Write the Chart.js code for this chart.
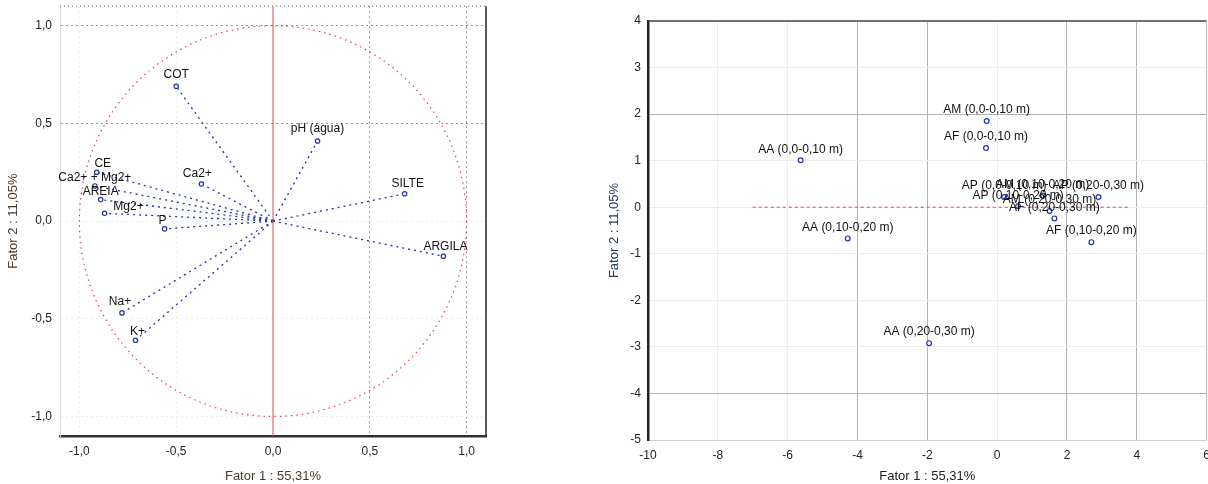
<!DOCTYPE html>
<html>
<head>
<meta charset="utf-8">
<script src="https://cdn.jsdelivr.net/npm/chart.js@4.4.1/dist/chart.umd.min.js"></script>
<style>
  html, body { margin: 0; padding: 0; background: #fff; }
  #wrap { position: relative; width: 1208px; height: 484px; overflow: hidden; }
  #c1 { position: absolute; left: 0; top: -9px; }
  #c2 { position: absolute; left: 590px; top: 0; }
</style>
</head>
<body>
<div id="wrap">
  <canvas id="c1" width="500" height="493"></canvas>
  <canvas id="c2" width="628" height="484"></canvas>
</div>
<script>
// ------------------------------
// data: variable loadings (circle of correlations)
// ------------------------------
const varNames = ["COT", "pH (água)", "SILTE", "ARGILA", "Na+", "K+", "CE", "Ca2+ + Mg2+", "AREIA", "Mg2+", "P", "Ca2+"];
const load1 = [-0.50, 0.23, 0.68, 0.88, -0.78, -0.71, -0.91, -0.92, -0.89, -0.87, -0.56, -0.37];
const load2 = [0.69, 0.41, 0.14, -0.18, -0.47, -0.61, 0.25, 0.18, 0.11, 0.04, -0.04, 0.19];
const circleTicks = [-1, -0.5, 0, 0.5, 1];
const circleLimits = [-1.1, 1.1];

// ------------------------------
// data: sample scores
// ------------------------------
const sampleNames = [
  "AA (0,0-0,10 m)", "AA (0,10-0,20 m)", "AA (0,20-0,30 m)",
  "AM (0,0-0,10 m)", "AF (0,0-0,10 m)", "AF (0,10-0,20 m)",
  "AP (0,0-0,10 m)", "AM (0,10-0,20 m)", "AP (0,10-0,20 m)",
  "AM (0,20-0,30 m)", "AP (0,20-0,30 m)", "AF (0,20-0,30 m)"
];
const score1 = [-5.63, -4.28, -1.95, -0.30, -0.32, 2.70, 0.20, 1.30, 0.60, 1.50, 2.90, 1.64];
const score2 = [1.01, -0.67, -2.92, 1.85, 1.27, -0.75, 0.22, 0.25, 0.02, -0.08, 0.22, -0.24];
const scoreXTicks = [-10, -8, -6, -4, -2, 0, 2, 4, 6];
const scoreYTicks = [-5, -4, -3, -2, -1, 0, 1, 2, 3, 4];
const refLineX = [-7, 3.8];

const titleX = "Fator 1 : 55,31%";
const titleY = "Fator 2 : 11,05%";

// label offsets (pixels) for the loadings plot
const varLabelOffset = {
  "COT": [0, -12], "pH (água)": [0, -12], "SILTE": [3, -10], "ARGILA": [2, -10],
  "Na+": [-2, -11], "K+": [2, -9], "CE": [6, -9], "Ca2+ + Mg2+": [0, -8],
  "AREIA": [0, -8], "Mg2+": [24, -7], "P": [-2, -8], "Ca2+": [-4, -10]
};

const BLUE = "#2433a6";
const FONT = "'Liberation Sans', Arial, sans-serif";
const comma = v => v.toFixed(1).replace(".", ",").replace("-0,0", "0,0");

// ------------------------------
// plugins
// ------------------------------
const pointLabels = {
  id: "pointLabels",
  afterDatasetsDraw(chart, args, o) {
    const { ctx, scales: { x, y } } = chart;
    ctx.save();
    ctx.font = o.size + "px " + FONT;
    ctx.fillStyle = "#111";
    ctx.textAlign = "center";
    ctx.textBaseline = "middle";
    o.names.forEach((n, i) => {
      const off = (o.offsets && o.offsets[n]) || [0, -11];
      ctx.fillText(n, x.getPixelForValue(o.xs[i]) + off[0], y.getPixelForValue(o.ys[i]) + off[1]);
    });
    ctx.restore();
  }
};

const unitCircle = {
  id: "unitCircle",
  beforeDatasetsDraw(chart) {
    const { ctx, scales: { x, y } } = chart;
    const cx = x.getPixelForValue(0), cy = y.getPixelForValue(0);
    const rx = x.getPixelForValue(1) - cx, ry = cy - y.getPixelForValue(1);
    ctx.save();
    ctx.strokeStyle = "#e0464a";
    ctx.lineWidth = 1.2;
    ctx.setLineDash([1.5, 4]);
    ctx.beginPath();
    ctx.ellipse(cx, cy, rx, ry, 0, 0, Math.PI * 2);
    ctx.stroke();
    ctx.restore();
  }
};

const frame = {
  id: "frame",
  afterDraw(chart, args, o) {
    const { ctx, chartArea: a } = chart;
    ctx.save();
    ctx.strokeStyle = o.topColor;
    ctx.lineWidth = o.topWidth;
    ctx.setLineDash(o.topDash || []);
    ctx.beginPath(); ctx.moveTo(a.left, a.top); ctx.lineTo(a.right, a.top); ctx.stroke();
    ctx.strokeStyle = o.rightColor;
    ctx.lineWidth = o.rightWidth;
    ctx.setLineDash([]);
    ctx.beginPath(); ctx.moveTo(a.right, a.top); ctx.lineTo(a.right, a.bottom); ctx.stroke();
    ctx.restore();
  }
};

// ------------------------------
// loadings chart (left)
// ------------------------------
const vectorSets = varNames.map((n, i) => ({
  label: n,
  data: [{ x: 0, y: 0 }, { x: load1[i], y: load2[i] }],
  showLine: true,
  borderColor: BLUE,
  borderWidth: 1.3,
  borderDash: [2, 4],
  pointRadius: [0, 2.2],
  pointBackgroundColor: "#fff",
  pointBorderColor: BLUE,
  pointBorderWidth: 1.2
}));

new Chart(document.getElementById("c1"), {
  type: "scatter",
  data: {
    datasets: [
      {
        label: "eixo",
        data: [{ x: 0, y: circleLimits[0] }, { x: 0, y: circleLimits[1] }],
        showLine: true,
        borderColor: "#e0464a",
        borderWidth: 1,
        pointRadius: 0
      },
      ...vectorSets
    ]
  },
  options: {
    responsive: false,
    animation: false,
    layout: { padding: { top: 4, right: 14, left: 0, bottom: 0 } },
    plugins: {
      legend: { display: false },
      tooltip: { enabled: false },
      pointLabels: { names: varNames, xs: load1, ys: load2, offsets: varLabelOffset, size: 12 },
      frame: { topColor: "#666", topWidth: 1, topDash: [1, 3], rightColor: "#222", rightWidth: 1.5 }
    },
    scales: {
      x: {
        type: "linear", min: circleLimits[0], max: circleLimits[1],
        afterBuildTicks: s => { s.ticks = circleTicks.map(v => ({ value: v })); },
        afterFit: s => { s.height = 48; },
        ticks: { callback: v => comma(v), color: "#222", font: { size: 12, family: FONT }, padding: 8, maxRotation: 0 },
        grid: { color: c => (c.tick && c.tick.value > 0 ? "#9a9a9a" : (c.tick && c.tick.value === 0 ? "rgba(0,0,0,0)" : "#ececec")), drawTicks: false },
        border: { display: true, color: "#333", width: 2.5, dash: [2, 3] },
        title: { display: true, text: titleX, color: "#4a3a2a", font: { size: 13, family: FONT }, padding: { top: 4, bottom: 0 } }
      },
      y: {
        type: "linear", min: circleLimits[0], max: circleLimits[1],
        afterBuildTicks: s => { s.ticks = circleTicks.map(v => ({ value: v })); },
        afterFit: s => { s.width = 60; },
        ticks: { callback: v => comma(v), color: "#222", font: { size: 12, family: FONT }, padding: 8 },
        grid: { color: c => (c.tick && c.tick.value > 0 ? "#9a9a9a" : "#ececec"), drawTicks: false },
        border: { display: true, color: "#d8d8d8", width: 1, dash: [2, 3] },
        title: { display: true, text: titleY, color: "#4a3a2a", font: { size: 13, family: FONT }, padding: { top: 6, bottom: 4 } }
      }
    }
  },
  plugins: [unitCircle, pointLabels, frame]
});

// ------------------------------
// scores chart (right)
// ------------------------------
const strongX = [-4, -2, 2, 4];
const strongY = [2, -4];

new Chart(document.getElementById("c2"), {
  type: "scatter",
  data: {
    datasets: [
      {
        label: "ref",
        data: refLineX.map(v => ({ x: v, y: 0 })),
        showLine: true,
        borderColor: "#e0464a",
        borderWidth: 1,
        borderDash: [3, 3],
        pointRadius: 0
      },
      {
        label: "amostras",
        data: sampleNames.map((n, i) => ({ x: score1[i], y: score2[i] })),
        pointRadius: 2.4,
        pointBackgroundColor: "#fff",
        pointBorderColor: BLUE,
        pointBorderWidth: 1.2
      }
    ]
  },
  options: {
    responsive: false,
    animation: false,
    layout: { padding: { top: 21, right: 3, left: 17, bottom: 0 } },
    plugins: {
      legend: { display: false },
      tooltip: { enabled: false },
      pointLabels: { names: sampleNames, xs: score1, ys: score2, size: 12 },
      frame: { topColor: "#444", topWidth: 1.5, rightColor: "#bbb", rightWidth: 1 }
    },
    scales: {
      x: {
        type: "linear", min: -10, max: 6,
        afterBuildTicks: s => { s.ticks = scoreXTicks.map(v => ({ value: v })); },
        afterFit: s => { s.height = 44; },
        ticks: { color: "#222", font: { size: 12, family: FONT }, padding: 8, maxRotation: 0 },
        grid: { color: c => (c.tick && strongX.includes(c.tick.value) ? "#b4b4b4" : "#ececec"), drawTicks: false },
        border: { display: true, color: "#d0d0d0", width: 1 },
        title: { display: true, text: titleX, color: "#222", font: { size: 13, family: FONT }, padding: { top: 2, bottom: 0 } }
      },
      y: {
        type: "linear", min: -5, max: 4,
        afterBuildTicks: s => { s.ticks = scoreYTicks.map(v => ({ value: v })); },
        afterFit: s => { s.width = 41; },
        ticks: { color: "#222", font: { size: 12, family: FONT }, padding: 7 },
        grid: { color: c => (c.tick && strongY.includes(c.tick.value) ? "#b4b4b4" : "#ececec"), drawTicks: false },
        border: { display: true, color: "#222", width: 2.5 },
        title: { display: true, text: titleY, color: "#2a3a5a", font: { size: 13, family: FONT }, padding: { top: 0, bottom: 2 } }
      }
    }
  },
  plugins: [pointLabels, frame]
});
</script>
</body>
</html>
